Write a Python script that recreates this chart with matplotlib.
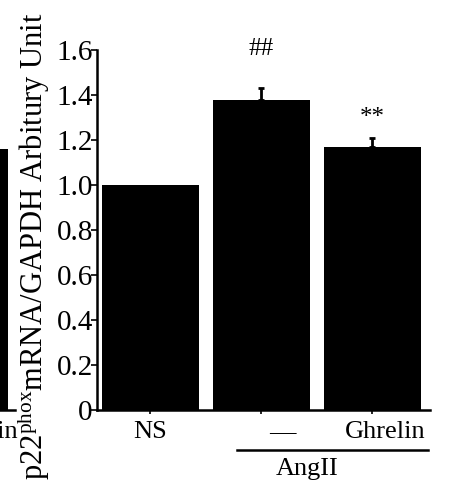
import matplotlib
matplotlib.use("Agg")
import matplotlib.pyplot as plt
import matplotlib.transforms as mtransforms

plt.rcParams["font.family"] = ["Liberation Serif", "DejaVu Serif"]
plt.rcParams["mathtext.fontset"] = "custom"
plt.rcParams["mathtext.rm"] = "Liberation Serif"
plt.rcParams["mathtext.it"] = "Liberation Serif:italic"

# data
groups = ["NS", "\u2014", "Ghrelin"]
values = [1.00, 1.38, 1.17]
errors = [0.0, 0.05, 0.04]
marks = ["", "##", "**"]
y_ticks = [0, 0.2, 0.4, 0.6, 0.8, 1.0, 1.2, 1.4, 1.6]
y_tick_labels = ["0", "0.2", "0.4", "0.6", "0.8", "1.0", "1.2", "1.4", "1.6"]
# neighbouring panel, only its last bar is visible at the left edge
left_groups = ["Ghrelin"]
left_values = [1.16]

W, H = 451, 490
fig = plt.figure(figsize=(W / 100, H / 100), dpi=100)

# main panel
ax = fig.add_axes([97 / W, 80 / H, 333 / W, 360 / H])
x = list(range(len(values)))
ax.bar(x, values, width=0.87, color="black", zorder=2)
ex = [xi for xi, e in zip(x, errors) if e > 0]
ev = [v for v, e in zip(values, errors) if e > 0]
ee = [e for e in errors if e > 0]
ax.errorbar(ex, ev, yerr=[[0] * len(ee), ee], fmt="none",
            ecolor="black", elinewidth=2, capsize=2.5, capthick=2, zorder=3)
for xi, v, e, m in zip(x, values, errors, marks):
    if m:
        gap = 0.15 if m == "##" else 0.06
        ax.text(xi, v + e + gap, m, ha="center", va="baseline",
                fontsize=18, clip_on=False)

ax.set_xlim(-0.48, 2.52)
ax.set_ylim(0, 1.6)
ax.set_yticks(y_ticks)
ax.set_yticklabels(y_tick_labels, fontsize=21)
ax.set_xticks(x)
ax.set_xticklabels(groups, fontsize=19)
ax.tick_params(axis="y", length=4, pad=-1, width=1.2)
ax.tick_params(axis="x", length=3, pad=5, width=1.2)
# the dash and Ghrelin labels sit a bit to the right in the original
for lbl, dx in zip(ax.get_xticklabels(), [0.0, 0.21, 0.13]):
    lbl.set_transform(lbl.get_transform() +
                      mtransforms.ScaledTranslation(dx, 0, fig.dpi_scale_trans))
for s in ["top", "right"]:
    ax.spines[s].set_visible(False)
ax.spines["left"].set_linewidth(1.8)
ax.spines["bottom"].set_linewidth(1.8)

ax.set_ylabel("p22$^{\\mathrm{phox}}$mRNA/GAPDH Arbitury Unit", fontsize=22)
ax.yaxis.set_label_coords(-0.135, 0.455)

# AngII bracket under the last two groups
trans = mtransforms.blended_transform_factory(ax.transData, ax.transAxes)
ax.plot([0.78, 2.5], [-0.111, -0.111], color="black", lw=1.8,
        transform=trans, clip_on=False)
ax.text(1.41, -0.163, "AngII", ha="center", va="center", fontsize=19,
        transform=trans)

# fragment of the neighbouring panel
ax0 = fig.add_axes([-96 / W, 80 / H, 111 / W, 360 / H])
ax0.bar([0], left_values, width=0.87, color="black")
ax0.set_xlim(-0.5, 0.5)
ax0.set_ylim(0, 1.6)
ax0.set_yticks([])
ax0.set_xticks([0.17])
ax0.set_xticklabels(left_groups, fontsize=19)
ax0.tick_params(axis="x", length=0, pad=8)
for s in ["top", "right", "left"]:
    ax0.spines[s].set_visible(False)
ax0.spines["bottom"].set_linewidth(1.8)

fig.savefig("out.png", dpi=100)
